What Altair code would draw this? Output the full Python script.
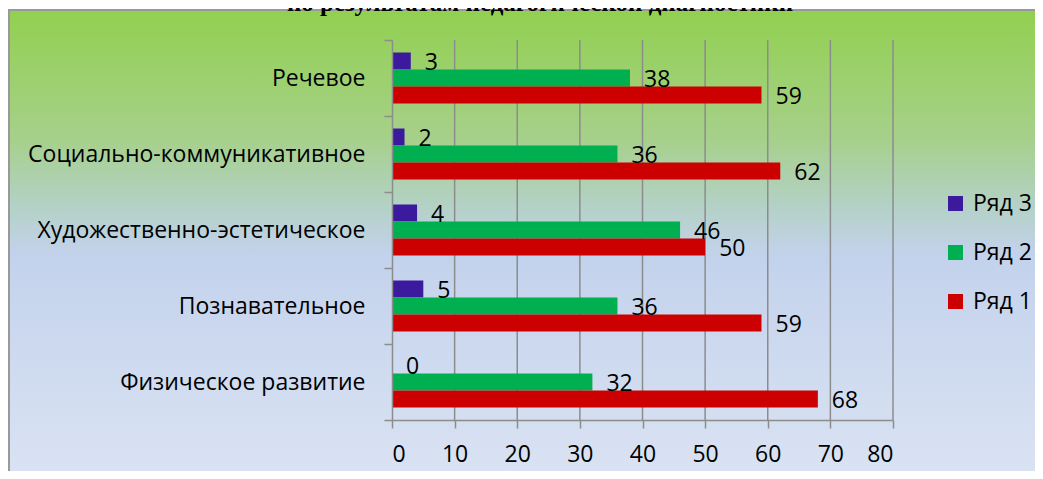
import altair as alt
import pandas as pd

categories = ["Речевое", "Социально-коммуникативное", "Художественно-эстетическое",
              "Познавательное", "Физическое развитие"]
series_names = ["Ряд 3", "Ряд 2", "Ряд 1"]
ryad1 = [59, 62, 50, 59, 68]
ryad2 = [38, 36, 46, 36, 32]
ryad3 = [3, 2, 4, 5, 0]
x_ticks = [0, 10, 20, 30, 40, 50, 60, 70, 80]
title_text = "по результатам педагогической диагностики"
colors = ["#3C1A9E", "#00B050", "#CC0000"]

rows = []
for i, c in enumerate(categories):
    for s, vals in zip(series_names, [ryad3, ryad2, ryad1]):
        rows.append({"category": c, "series": s, "value": vals[i]})
df = pd.DataFrame(rows)

FONT = "Open Sans"
FS = 23
W, H = 501, 380

xscale = alt.Scale(domain=[0, 80], nice=False, zero=True)
yscale = alt.Scale(domain=categories, paddingInner=0, paddingOuter=0)
yoff_scale = alt.Scale(domain=series_names, paddingInner=0, paddingOuter=0.735)

x_axis = alt.Axis(values=x_ticks, grid=False, tickSize=8, domainColor="#8C8C8C",
                  tickColor="#8C8C8C", domainWidth=1.5, tickWidth=1.5,
                  labelFont=FONT, labelFontSize=FS, labelColor="black",
                  labelPadding=15, zindex=1)

one = pd.DataFrame({"a": [0]})

bg = alt.Chart(one).mark_rect(
    color=alt.Gradient(
        gradient="linear",
        x1=0, x2=0, y1=0, y2=1,
        stops=[
            alt.GradientStop(color="#92D050", offset=0),
            alt.GradientStop(color="#A6D08A", offset=0.25),
            alt.GradientStop(color="#B3D1C4", offset=0.38),
            alt.GradientStop(color="#C3D2EC", offset=0.48),
            alt.GradientStop(color="#DAE3F3", offset=0.92),
            alt.GradientStop(color="#DDE5F4", offset=1),
        ],
    ),
    strokeWidth=0,
).encode(
    x=alt.value(-383), x2=alt.value(700), y=alt.value(-30), y2=alt.value(480)
)

frame_left = alt.Chart(one).mark_rule(color="#999999", strokeWidth=2).encode(
    x=alt.value(-383), y=alt.value(-31), y2=alt.value(480)
)
frame_top = alt.Chart(one).mark_rule(color="#999999", strokeWidth=2).encode(
    x=alt.value(-384), x2=alt.value(700), y=alt.value(-30)
)

title = alt.Chart(pd.DataFrame({"t": [title_text]})).mark_text(
    font="Liberation Serif", fontWeight="bold", fontSize=25, align="center",
    baseline="alphabetic", color="black"
).encode(x=alt.value(148), y=alt.value(-29), text="t:N")

grid = alt.Chart(pd.DataFrame({"t": x_ticks[1:]})).mark_rule(
    color="#8C8C8C", strokeWidth=1.5
).encode(x=alt.X("t:Q", scale=xscale, title=None, axis=x_axis))

bars = alt.Chart(df).mark_bar().encode(
    x=alt.X("value:Q", scale=xscale, title=None, axis=x_axis),
    y=alt.Y("category:N", scale=yscale, sort=categories, title=None,
            axis=alt.Axis(tickBand="extent", tickSize=8, domainColor="#8C8C8C",
                          tickColor="#8C8C8C", domainWidth=1.5, tickWidth=1.5,
                          labelFont=FONT, labelFontSize=FS, labelColor="black",
                          labelPadding=19, labelLimit=400, zindex=1)),
    yOffset=alt.YOffset("series:N", scale=yoff_scale, sort=series_names),
    color=alt.Color("series:N", sort=series_names,
                    scale=alt.Scale(domain=series_names, range=colors),
                    legend=alt.Legend(title=None, orient="none", legendX=552, legendY=152,
                                      symbolType="square", symbolSize=225,
                                      symbolStrokeWidth=0, labelFont=FONT,
                                      labelFontSize=FS, labelColor="black",
                                      rowPadding=25, labelOffset=6)),
)

labels = alt.Chart(df).mark_text(
    align="left", baseline="middle", dx=14, dy=2, font=FONT, fontSize=FS, color="black"
).encode(
    x=alt.X("value:Q", scale=xscale),
    y=alt.Y("category:N", scale=yscale, sort=categories),
    yOffset=alt.YOffset("series:N", scale=yoff_scale, sort=series_names),
    text="value:Q",
)

chart = alt.layer(bg, frame_left, frame_top, grid, bars, labels, title).properties(
    width=W, height=H,
    padding={"left": 384, "top": 32, "right": 142, "bottom": 51},
    autosize=alt.AutoSizeParams(type="none"),
).configure_view(stroke=None)

chart.save("out.html", embed_options={"renderer": "svg", "actions": False})
